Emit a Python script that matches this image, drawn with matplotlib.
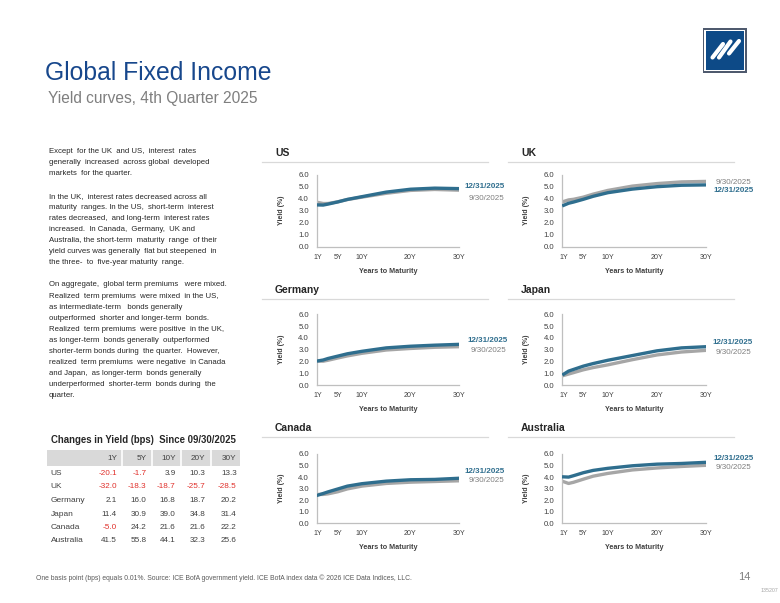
import matplotlib
matplotlib.use('Agg')
import matplotlib.pyplot as plt
from matplotlib.patches import Rectangle
from matplotlib.lines import Line2D

plt.rcParams['font.family'] = ['Liberation Sans', 'DejaVu Sans']

# yield curve data (%)
maturities = [1, 2, 3, 5, 7, 10, 15, 20, 25, 30]
us_dec = [3.48, 3.47, 3.55, 3.73, 3.94, 4.17, 4.55, 4.79, 4.88, 4.84]
us_sep = [3.68, 3.60, 3.60, 3.74, 3.93, 4.13, 4.45, 4.69, 4.77, 4.71]
uk_dec = [3.45, 3.62, 3.72, 3.95, 4.20, 4.50, 4.80, 5.00, 5.12, 5.15]
uk_sep = [3.77, 3.90, 3.95, 4.13, 4.38, 4.69, 5.05, 5.26, 5.40, 5.44]
de_dec = [2.05, 2.12, 2.25, 2.45, 2.65, 2.86, 3.15, 3.29, 3.38, 3.45]
de_sep = [2.03, 2.02, 2.10, 2.29, 2.47, 2.69, 2.97, 3.10, 3.20, 3.25]
jp_dec = [0.92, 1.18, 1.32, 1.60, 1.82, 2.10, 2.50, 2.90, 3.15, 3.25]
jp_sep = [0.81, 0.93, 1.05, 1.29, 1.48, 1.71, 2.15, 2.55, 2.80, 2.94]
ca_dec = [2.45, 2.58, 2.72, 2.97, 3.22, 3.43, 3.65, 3.77, 3.80, 3.90]
ca_sep = [2.50, 2.50, 2.55, 2.73, 2.98, 3.22, 3.45, 3.56, 3.62, 3.68]
au_dec = [4.02, 4.00, 4.12, 4.38, 4.58, 4.76, 4.98, 5.12, 5.18, 5.28]
au_sep = [3.60, 3.45, 3.55, 3.82, 4.08, 4.32, 4.62, 4.79, 4.92, 5.02]

tenor_ticks = [1, 5, 10, 20, 30]
tenor_labels = ['1Y', '5Y', '10Y', '20Y', '30Y']
y_ticks = [0, 1, 2, 3, 4, 5, 6]

# changes table (bps)
countries = ['US', 'UK', 'Germany', 'Japan', 'Canada', 'Australia']
yield_changes = [
    [-20.1, -1.7, 3.9, 10.3, 13.3],
    [-32.0, -18.3, -18.7, -25.7, -28.5],
    [2.1, 16.0, 16.8, 18.7, 20.2],
    [11.4, 30.9, 39.0, 34.8, 31.4],
    [-5.0, 24.2, 21.6, 21.6, 22.2],
    [41.5, 55.8, 44.1, 32.3, 25.6],
]

para1 = ["Except  for the UK  and US,  interest  rates",
         "generally  increased  across global  developed",
         "markets  for the quarter."]
para2 = ["In the UK,  interest rates decreased across all",
         "maturity  ranges. In the US,  short-term  interest",
         "rates decreased,  and long-term  interest rates",
         "increased.  In Canada,  Germany,  UK and",
         "Australia, the short-term  maturity  range  of their",
         "yield curves was generally  flat but steepened  in",
         "the three-  to  five-year maturity  range."]
para3 = ["On aggregate,  global term premiums   were mixed.",
         "Realized  term premiums  were mixed  in the US,",
         "as intermediate-term   bonds generally",
         "outperformed  shorter and longer-term  bonds.",
         "Realized  term premiums  were positive  in the UK,",
         "as longer-term  bonds generally  outperformed",
         "shorter-term bonds during  the quarter.  However,",
         "realized  term premiums  were negative  in Canada",
         "and Japan,  as longer-term  bonds generally",
         "underperformed  shorter-term  bonds during  the",
         "quarter."]

W, H = 780, 603
TEAL = '#2F6E8E'
GREY = '#A6A6A6'
DARK = '#404040'

fig = plt.figure(figsize=(7.8, 6.03), dpi=100)


def fx(x):
    return x / W


def fy(y):
    return 1 - y / H


def pixel_axes(x0, y0, x1, y1):
    return fig.add_axes([x0 / W, 1 - y1 / H, (x1 - x0) / W, (y1 - y0) / H])


def yield_chart(title, dec, sep, x1, x30, y6, y0, title_x, title_y, sep_x0, sep_x1,
                sep_y, labels):
    per_year = (x30 - x1) / 29.0
    ax = pixel_axes(x1 - 0.33 * per_year, y6, x30, y0)
    ax.plot(maturities, sep, color=GREY, linewidth=2.4, zorder=2)
    ax.plot(maturities, dec, color=TEAL, linewidth=2.4, zorder=3)
    ax.set_xlim(0.67, 30)
    ax.set_ylim(0, 6)
    ax.set_xticks(tenor_ticks)
    ax.set_xticklabels(tenor_labels)
    ax.set_yticks(y_ticks)
    ax.set_yticklabels(['%.1f' % v for v in y_ticks])
    ax.tick_params(axis='both', length=0, colors=DARK)
    ax.tick_params(axis='y', labelsize=5.6, pad=5.5)
    ax.tick_params(axis='x', labelsize=5.1, pad=5)
    for s in ['top', 'right']:
        ax.spines[s].set_visible(False)
    for s in ['left', 'bottom']:
        ax.spines[s].set_color('#BFBFBF')
        ax.spines[s].set_linewidth(0.9)
    ax.set_xlabel('Years to Maturity', fontsize=5.2, fontweight='bold', color=DARK)
    ax.xaxis.set_label_coords(0.5, -0.295)
    ax.set_ylabel('Yield (%)', fontsize=5, fontweight='bold', color=DARK)
    ax.yaxis.set_label_coords(-0.225, 0.5)
    ax.patch.set_alpha(0)

    fig.text(fx(title_x), fy(title_y), title, fontsize=7.5, fontweight='bold',
             color='#262626', va='center', ha='left')
    fig.add_artist(Line2D([fx(sep_x0), fx(sep_x1)], [fy(sep_y), fy(sep_y)],
                          color='#D9D9D9', linewidth=0.9))
    for text, xr, yc, bold, col in labels:
        fig.text(fx(xr), fy(yc), text, fontsize=5.8, ha='right', va='center',
                 fontweight='bold' if bold else 'normal', color=col)
    return ax


# header
fig.text(fx(45), fy(80), 'Global Fixed Income', fontsize=17.8, color='#17478C',
         va='baseline', ha='left')
fig.text(fx(48.3), fy(103), 'Yield curves, 4th Quarter 2025', fontsize=11.2,
         color='#7F7F7F', va='baseline', ha='left')

# logo
logo = pixel_axes(700, 26, 750, 76)
logo.set_xlim(700, 750)
logo.set_ylim(76, 26)
logo.axis('off')
logo.add_patch(Rectangle((702.7, 28.3), 44, 44.4, facecolor='#4F5A6E', edgecolor='none'))
logo.add_patch(Rectangle((704.2, 29.8), 41, 41.4, facecolor='white', edgecolor='none'))
logo.add_patch(Rectangle((705.7, 31.2), 38.2, 38.7, facecolor='#0D4A87', edgecolor='none'))
for (xa, ya, xb, yb) in [(712.5, 57.5, 723.0, 44.0), (719.0, 57.5, 730.5, 41.5),
                         (729.0, 53.5, 739.0, 41.0)]:
    logo.plot([xa, xb], [ya, yb], color='white', linewidth=3.0, solid_capstyle='round')

# commentary
y = 151.7
for block in [para1, para2, para3]:
    for line in block:
        fig.text(fx(49), fy(y), line, fontsize=5.55, color='#262626', va='center', ha='left')
        y += 11.1
    y += 11.1

# table
fig.text(fx(50.5), fy(440), 'Changes in Yield (bps)  Since 09/30/2025', fontsize=6.9,
         fontweight='bold', color='#262626', va='center', ha='left')
fig.add_artist(Rectangle((fx(46.7), fy(465.5)), (240 - 46.7) / W, 15.5 / H,
                         facecolor='#D9D9D9', edgecolor='none'))
for xs in [121.7, 151.7, 181, 210.5]:
    fig.add_artist(Line2D([fx(xs), fx(xs)], [fy(450), fy(465.5)], color='white', linewidth=1.2))
col_right = [117, 146.7, 175.7, 205.7, 236.7]
for xr, lab in zip(col_right, tenor_labels):
    fig.text(fx(xr), fy(458), lab, fontsize=5.9, color=DARK, ha='right', va='center')
row_y = [473.3, 486.7, 500.3, 514, 527.7, 541]
for yy, name, vals in zip(row_y, countries, yield_changes):
    fig.text(fx(50.5), fy(yy), name, fontsize=6, color=DARK, ha='left', va='center')
    for xr, v in zip(col_right, vals):
        col = '#E0302B' if v < 0 else DARK
        fig.text(fx(xr), fy(yy), '%.1f' % v, fontsize=5.9, color=col, ha='right', va='center')

# charts
yield_chart('US', us_dec, us_sep, 318.3, 459, 174.7, 246.7, 275, 153.3, 262, 488, 162.3,
            [('12/31/2025', 505, 186.7, True, TEAL), ('9/30/2025', 504, 198, False, '#7F7F7F')])
yield_chart('UK', uk_dec, uk_sep, 563.7, 706, 174.7, 246.7, 521, 153.3, 508, 734, 162.3,
            [('9/30/2025', 751, 182.7, False, '#7F7F7F'), ('12/31/2025', 754, 191, True, TEAL)])
yield_chart('Germany', de_dec, de_sep, 318.3, 459, 314.3, 385, 275, 290, 262, 488, 299,
            [('12/31/2025', 508, 341, True, TEAL), ('9/30/2025', 506, 350, False, '#7F7F7F')])
yield_chart('Japan', jp_dec, jp_sep, 563.7, 706, 314.3, 385, 521, 290, 508, 734, 298.5,
            [('12/31/2025', 753, 342.7, True, TEAL), ('9/30/2025', 751, 352.7, False, '#7F7F7F')])
yield_chart('Canada', ca_dec, ca_sep, 318.3, 459, 454, 523.3, 275, 428.3, 262, 488, 437.3,
            [('12/31/2025', 505, 471.7, True, TEAL), ('9/30/2025', 504, 481, False, '#7F7F7F')])
yield_chart('Australia', au_dec, au_sep, 563.7, 706, 454, 523.3, 521, 428.3, 508, 734, 437.3,
            [('12/31/2025', 754, 458.3, True, TEAL), ('9/30/2025', 751, 467.3, False, '#7F7F7F')])

# footer
fig.text(fx(36), fy(578), 'One basis point (bps) equals 0.01%. Source: ICE BofA government yield. '
         'ICE BofA index data \u00a9 2026 ICE Data Indices, LLC.', fontsize=4.9,
         color='#595959', ha='left', va='center')
fig.text(fx(750), fy(577), '14', fontsize=8, color='#7F7F7F', ha='right', va='center')
fig.text(fx(778), fy(590), '135207', fontsize=3.8, color='#A6A6A6', ha='right', va='center')

fig.savefig('out.png', dpi=100)
